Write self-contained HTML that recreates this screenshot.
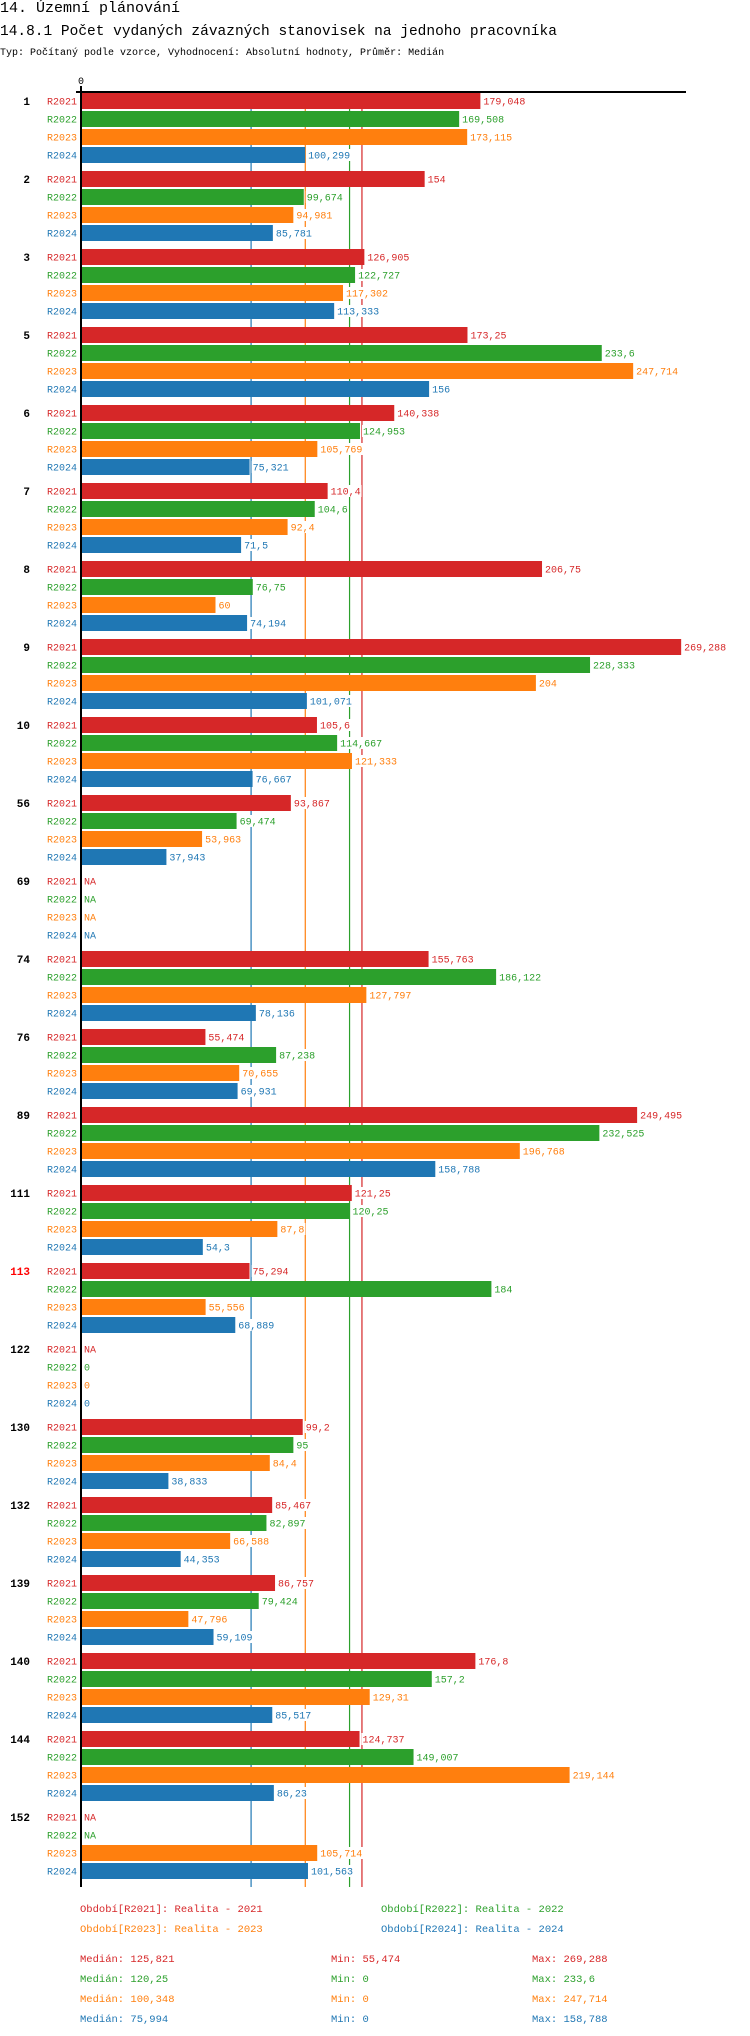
<!DOCTYPE html>
<html><head><meta charset="utf-8">
<style>
html,body{margin:0;padding:0;background:#fff;}
svg{display:block;}
text{font-family:"Liberation Mono","DejaVu Sans Mono",monospace;}
</style></head>
<body>
<svg id="chart" width="750" height="2036" viewBox="0 0 750 2036" xmlns="http://www.w3.org/2000/svg">
<text x="0" y="12" font-size="15" fill="#000">14. Územní plánování</text>
<text x="0" y="35" font-size="14.5" fill="#000">14.8.1 Počet vydaných závazných stanovisek na jednoho pracovníka</text>
<text x="0" y="55" font-size="10" fill="#000">Typ: Počítaný podle vzorce, Vyhodnocení: Absolutní hodnoty, Průměr: Medián</text>
<g id="lines"></g>
<g id="bars"></g>
<g id="labels"></g>
<g id="legend"></g>
</svg>
<script>
const categories = ["1","2","3","5","6","7","8","9","10","56","69","74","76","89","111","113","122","130","132","139","140","144","152"];
const highlighted = ["113"];
const seriesNames = ["R2021","R2022","R2023","R2024"];
const r2021 = [179.048,154,126.905,173.25,140.338,110.4,206.75,269.288,105.6,93.867,null,155.763,55.474,249.495,121.25,75.294,null,99.2,85.467,86.757,176.8,124.737,null];
const r2022 = [169.508,99.674,122.727,233.6,124.953,104.6,76.75,228.333,114.667,69.474,null,186.122,87.238,232.525,120.25,184,0,95,82.897,79.424,157.2,149.007,null];
const r2023 = [173.115,94.981,117.302,247.714,105.769,92.4,60,204,121.333,53.963,null,127.797,70.655,196.768,87.8,55.556,0,84.4,66.588,47.796,129.31,219.144,105.714];
const r2024 = [100.299,85.781,113.333,156,75.321,71.5,74.194,101.071,76.667,37.943,null,78.136,69.931,158.788,54.3,68.889,0,38.833,44.353,59.109,85.517,86.23,101.563];
const medians = [125.821,120.25,100.348,75.994];
const mins = [55.474,0,0,0];
const maxs = [269.288,233.6,247.714,158.788];
const legendLabels = ["Období[R2021]: Realita - 2021","Období[R2022]: Realita - 2022","Období[R2023]: Realita - 2023","Období[R2024]: Realita - 2024"];

const colors = ["#d62728","#2ca02c","#ff7f0e","#1f77b4"];
const series = [r2021,r2022,r2023,r2024];
const NS = "http://www.w3.org/2000/svg";
const X0 = 82, SCALE = 2.225, TOP = 93, ROW = 18, BAR_H = 16, GROUP = 78;
const x = v => X0 + v * SCALE;
const yRow = (g, s) => TOP + g * GROUP + s * ROW;
const fmt = v => String(v).replace('.', ',');
function mk(tag, attrs, parent, txt) {
  const el = document.createElementNS(NS, tag);
  for (const k in attrs) el.setAttribute(k, attrs[k]);
  if (txt !== undefined) el.textContent = txt;
  parent.appendChild(el);
  return el;
}
const gL = document.getElementById('lines'), gB = document.getElementById('bars'), gT = document.getElementById('labels'), gLeg = document.getElementById('legend');
const bottom = yRow(categories.length - 1, 3) + BAR_H + 8;

medians.forEach((m, i) => {
  const l = mk('line', {x1: x(m), x2: x(m), y1: 92, y2: bottom, stroke: colors[i], 'stroke-width': 1.2}, gL);
  
  
});
const ax = mk('line', {x1: 76, x2: 686, y1: 92, y2: 92, stroke: '#000', 'stroke-width': 2}, gL);


const ay = mk('line', {x1: 81, x2: 81, y1: 86, y2: bottom, stroke: '#000', 'stroke-width': 2}, gL);


const t0 = mk('text', {x: 81, y: 84, 'font-size': 10, 'text-anchor': 'middle', fill: '#000'}, gL, '0');



categories.forEach((c, g) => {
  const gl = mk('text', {x: 30, y: yRow(g, 0) + 12, 'font-size': 11, 'font-weight': 'bold', 'text-anchor': 'end', fill: highlighted.includes(c) ? '#ff0000' : '#000'}, gT, c);
  
  
  series.forEach((arr, s) => {
    const y = yRow(g, s);
    const rl = mk('text', {x: 77, y: y + 11.5, 'font-size': 10, 'text-anchor': 'end', fill: colors[s]}, gT, seriesNames[s]);
    
    
    const v = arr[g];
    let lx = 84;
    if (v !== null && v > 0) {
      const b = mk('rect', {x: X0, y: y, width: x(v) - X0, height: BAR_H, fill: colors[s]}, gB);
      
      
      lx = x(v) + 3;
    }
    const txt = v === null ? 'NA' : fmt(v);
    const w = txt.length * 6 + 2;
    mk('rect', {x: lx - 1, y: y + 2, width: w, height: 12, fill: '#fff'}, gT);
    const vl = mk('text', {x: lx, y: y + 11.5, 'font-size': 10, fill: colors[s]}, gT, txt);
    
    
  });
});

const legX = [80, 381];
legendLabels.forEach((t, i) => {
  const el = mk('text', {x: legX[i % 2], y: 1912 + Math.floor(i / 2) * 20, 'font-size': 10.5, fill: colors[i]}, gLeg, t);
  
  
});
series.forEach((arr, i) => {
  const y = 1962 + i * 20;
  const a = mk('text', {x: 80, y: y, 'font-size': 10.5, fill: colors[i]}, gLeg, 'Medián: ' + fmt(medians[i]));
  
  
  const b = mk('text', {x: 331, y: y, 'font-size': 10.5, fill: colors[i]}, gLeg, 'Min: ' + fmt(mins[i]));
  
  
  const d = mk('text', {x: 532, y: y, 'font-size': 10.5, fill: colors[i]}, gLeg, 'Max: ' + fmt(maxs[i]));
  
  
});
</script>
</body></html>
